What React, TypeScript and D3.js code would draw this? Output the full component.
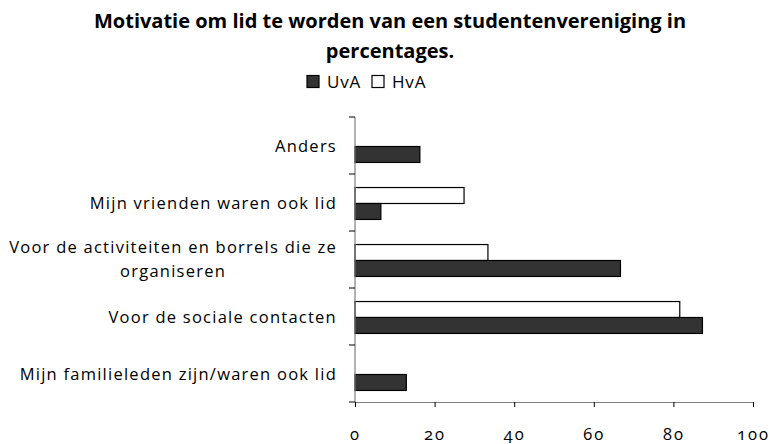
import React, { useRef, useEffect } from 'react';
import * as d3 from 'd3';

const titleLines = ['Motivatie om lid te worden van een studentenvereniging in', 'percentages.'];
const categories = [
  'Anders',
  'Mijn vrienden waren ook lid',
  'Voor de activiteiten en borrels die ze organiseren',
  'Voor de sociale contacten',
  'Mijn familieleden zijn/waren ook lid',
];
const seriesNames = ['HvA', 'UvA'];
const hvaValues = [0, 27.4, 33.4, 81.6, 0];
const uvaValues = [16.3, 6.5, 66.7, 87.3, 12.9];
const xTicks = [0, 20, 40, 60, 80, 100];
const legendNames = ['UvA', 'HvA'];

const colors: Record<string, string> = { UvA: '#333333', HvA: '#ffffff' };

const App = () => {
  const ref = useRef<SVGSVGElement>(null);

  useEffect(() => {
    const svg = d3.select(ref.current);
    svg.selectAll('*').remove();

    const width = 771;
    const height = 444;
    const margin = { top: 117, right: 18, bottom: 42, left: 355 };
    const font = '"Open Sans", sans-serif';

    const x = d3.scaleLinear().domain([0, 100]).range([margin.left, width - margin.right]);
    const y = d3
      .scaleBand()
      .domain(categories)
      .range([margin.top, height - margin.bottom])
      .paddingInner(0.44)
      .paddingOuter(0.22);
    const ySub = d3.scaleBand().domain(seriesNames).range([0, y.bandwidth()]);

    // title
    svg
      .append('g')
      .selectAll('text')
      .data(titleLines)
      .enter()
      .append('text')
      .attr('x', 390)
      .attr('y', (d, i) => 28 + i * 30)
      .attr('text-anchor', 'middle')
      .attr('font-family', font)
      .attr('font-weight', 700)
      .attr('font-size', 20)
      .attr('fill', '#000')
      .text((d) => d);

    // legend
    const legend = svg.append('g').attr('transform', 'translate(307, 75.5)');
    const items = legend
      .selectAll('g')
      .data(legendNames)
      .enter()
      .append('g')
      .attr('transform', (d, i) => `translate(${i * 65}, 0)`);
    items
      .append('rect')
      .attr('width', 12)
      .attr('height', 12)
      .attr('fill', (d) => colors[d])
      .attr('stroke', '#000')
      .attr('stroke-width', 1.2);
    items
      .append('text')
      .attr('x', 20)
      .attr('y', 12.5)
      .attr('font-family', font)
      .attr('font-size', 17)
      .attr('letter-spacing', 0.8)
      .attr('fill', '#000')
      .text((d) => d);

    // bars
    const rows = categories.map((c, i) => ({ cat: c, HvA: hvaValues[i], UvA: uvaValues[i] }));
    const groups = svg
      .append('g')
      .selectAll('g')
      .data(rows)
      .enter()
      .append('g')
      .attr('transform', (d) => `translate(0, ${(y(d.cat) as number) + 1})`);
    groups
      .selectAll('rect')
      .data((d) => seriesNames.map((s) => ({ s, v: (d as any)[s] as number })).filter((e) => e.v > 0))
      .enter()
      .append('rect')
      .attr('x', x(0))
      .attr('y', (d) => ySub(d.s) as number)
      .attr('width', (d) => x(d.v) - x(0))
      .attr('height', ySub.bandwidth())
      .attr('fill', (d) => colors[d.s])
      .attr('stroke', '#000')
      .attr('stroke-width', 1.2);

    // y axis
    const yAxis = svg.append('g');
    yAxis
      .append('line')
      .attr('x1', x(0))
      .attr('x2', x(0))
      .attr('y1', margin.top)
      .attr('y2', height - margin.bottom)
      .attr('stroke', '#7f7f7f')
      .attr('stroke-width', 1.2);
    const boundaries = categories
      .map((c) => (y(c) as number) - y.paddingOuter() * y.step())
      .concat([height - margin.bottom]);
    yAxis
      .selectAll('.tick')
      .data(boundaries)
      .enter()
      .append('line')
      .attr('x1', x(0) - 6)
      .attr('x2', x(0))
      .attr('y1', (d) => d)
      .attr('y2', (d) => d)
      .attr('stroke', '#000')
      .attr('stroke-width', 1);

    const labels = yAxis
      .selectAll('.label')
      .data(categories)
      .enter()
      .append('text')
      .attr('font-family', font)
      .attr('font-size', 16.5)
      .attr('letter-spacing', 1.25)
      .attr('fill', '#000');

    // wrap long labels; wrapped lines are centred on the widest one
    labels.each(function (d) {
      const t = d3.select(this);
      const words = d.split(' ');
      const lines: string[] = [];
      let line: string[] = [];
      const probe = t.append('tspan');
      const measure = (s: string) => {
        probe.text(s);
        return (probe.node() as SVGTSpanElement).getComputedTextLength();
      };
      words.forEach((w) => {
        line.push(w);
        if (measure(line.join(' ')) > 340 && line.length > 1) {
          line.pop();
          lines.push(line.join(' '));
          line = [w];
        }
      });
      lines.push(line.join(' '));
      const maxW = d3.max(lines, (l) => measure(l)) as number;
      probe.remove();
      const cy = (y(d) as number) + y.bandwidth() / 2;
      const lh = 24;
      t.attr('text-anchor', lines.length > 1 ? 'middle' : 'end');
      lines.forEach((l, i) => {
        t.append('tspan')
          .attr('x', lines.length > 1 ? 337 - maxW / 2 : 337)
          .attr('y', cy + 6 + (i - (lines.length - 1) / 2) * lh - (lines.length > 1 ? 1 : 0))
          .text(l);
      });
    });

    // x axis
    const xAxisG = svg.append('g').attr('transform', `translate(0, ${height - margin.bottom})`);
    xAxisG
      .call(d3.axisBottom(x).tickValues(xTicks).tickSize(5).tickSizeOuter(0).tickPadding(21))
      .call((g) => g.select('.domain').attr('stroke', '#7f7f7f').attr('stroke-width', 1.2));
    xAxisG.selectAll('.tick line').attr('stroke', '#000');
    xAxisG
      .selectAll('.tick text')
      .attr('font-family', font)
      .attr('font-size', 16.5)
      .attr('letter-spacing', 2)
      .attr('fill', '#000')
      .style('font-variant-numeric', 'oldstyle-nums');
  }, []);

  return (
    <svg
      ref={ref}
      width={771}
      height={444}
      style={{ position: 'absolute', left: 0, top: 0, background: '#fff' }}
    />
  );
};

export default App;
